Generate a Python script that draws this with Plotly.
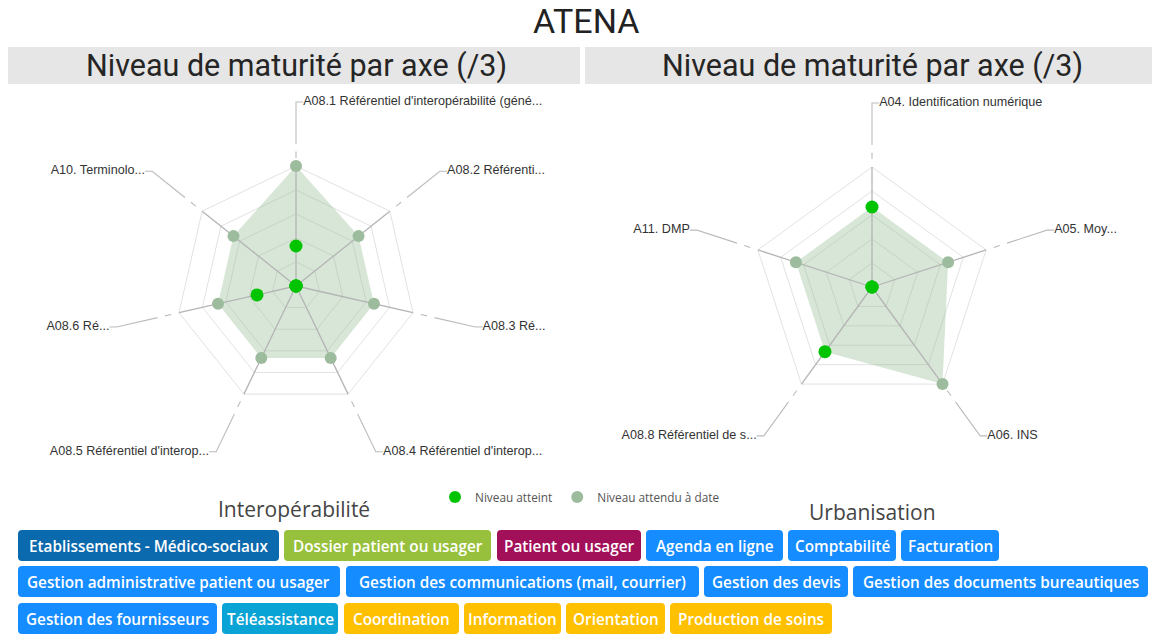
import numpy as np
import plotly.graph_objects as go

W, H = 1155, 634

titre = "ATENA"
sous_titre = "Niveau de maturité par axe (/3)"

# --- radar Interopérabilité
axes_interop = ["A08.1 Référentiel d'interopérabilité (géné...", "A08.2 Référenti...", "A08.3 Ré...",
                "A08.4 Référentiel d'interop...", "A08.5 Référentiel d'interop...", "A08.6 Ré...",
                "A10. Terminolo..."]
atteint_interop = [1, 0, 0, 0, 0, 1, 0]
attendu_interop = [3, 2, 2, 2, 2, 2, 2]

# --- radar Urbanisation
axes_urba = ["A04. Identification numérique", "A05. Moy...", "A06. INS",
             "A08.8 Référentiel de s...", "A11. DMP"]
atteint_urba = [2, 0, 0, 2, 0]
attendu_urba = [2, 2, 3, 2, 2]

niveaux = [0.6, 1.2, 1.8, 2.4, 3.0]
legende = ["Niveau atteint", "Niveau attendu à date"]
sections = ["Interopérabilité", "Urbanisation"]

# --- boutons (filtres)
boutons = [
    ["Etablissements - Médico-sociaux", "Dossier patient ou usager", "Patient ou usager",
     "Agenda en ligne", "Comptabilité", "Facturation"],
    ["Gestion administrative patient ou usager", "Gestion des communications (mail, courrier)",
     "Gestion des devis", "Gestion des documents bureautiques"],
    ["Gestion des fournisseurs", "Téléassistance", "Coordination", "Information",
     "Orientation", "Production de soins"],
]
types_boutons = [
    ["etab", "dossier", "patient", "fonction", "fonction", "fonction"],
    ["fonction", "fonction", "fonction", "fonction"],
    ["fonction", "tele", "service", "service", "service", "service"],
]
couleurs_types = {"etab": "#0b69ad", "dossier": "#97c13c", "patient": "#a3105a",
                  "fonction": "#158cff", "tele": "#0aa3d5", "service": "#ffc000"}
# positions des boutons (px) : bords gauche/droit, lignes haut/bas
x_boutons = [
    [(18, 279), (284, 491), (497, 641), (646, 783), (788, 896), (901, 999)],
    [(18, 340), (346, 699), (704, 848), (853, 1148)],
    [(18, 217), (222, 338), (344, 459), (464, 561), (566, 665), (670, 832)],
]
y_boutons = [(530, 561), (566, 597), (603, 634)]

VERT = "#00c400"
GRIS_VERT = "#9dbb9d"
REMPLI = "rgba(150,190,150,0.38)"
PX_UNITE = 40.0
RMAX = 4.9


def px(x, y):
    return x / W, 1 - y / H


def rect_arrondi(x0, y0, x1, y1, r=4):
    pts = [(x0 + r, y0), (x1 - r, y0), (x1, y0), (x1, y0 + r), (x1, y1 - r), (x1, y1),
           (x1 - r, y1), (x0 + r, y1), (x0, y1), (x0, y1 - r), (x0, y0 + r), (x0, y0), (x0 + r, y0)]
    p = [px(*q) for q in pts]
    s = "M %f,%f L %f,%f Q %f,%f %f,%f L %f,%f Q %f,%f %f,%f L %f,%f Q %f,%f %f,%f L %f,%f Q %f,%f %f,%f Z" % tuple(
        v for q in p for v in q)
    return s


fig = go.Figure()


def radar(noms, atteint, attendu, grille, dessus, avec_legende):
    n = len(noms)
    theta = np.arange(n) * 360.0 / n
    # remplissage du niveau attendu (axe catégoriel pour la grille polygonale)
    fig.add_trace(go.Scatterpolar(r=attendu, theta=noms, mode="lines", fill="toself",
                                  fillcolor=REMPLI, line=dict(width=0, color="rgba(0,0,0,0)"),
                                  subplot=grille, showlegend=False, hoverinfo="skip"))
    # rayons
    r_s, t_s = [], []
    for t in theta:
        r_s += [0, 3, None]
        t_s += [t, t, None]
    fig.add_trace(go.Scatterpolar(r=r_s, theta=t_s, mode="lines", line=dict(color="#b4b4b4", width=1.3),
                                  subplot=dessus, showlegend=False, hoverinfo="skip"))
    # traits de rappel vers les étiquettes
    r_l, t_l, r_txt, t_txt, pos = [], [], [], [], []
    for t in theta:
        a = np.radians(t)
        sens = 1 if np.sin(a) > -1e-9 else -1
        xe = 4.6 * np.sin(a) + sens * 0.18
        ye = 4.6 * np.cos(a)
        re = float(np.hypot(xe, ye))
        te = float(np.degrees(np.arctan2(xe, ye)) % 360)
        r_l += [3.2, 3.36, None, 3.55, 4.6, re, None]
        t_l += [t, t, None, t, t, te, None]
        r_txt.append(re)
        t_txt.append(te)
        pos.append("middle right" if sens > 0 else "middle left")
    fig.add_trace(go.Scatterpolar(r=r_l, theta=t_l, mode="lines", line=dict(color="#bcbcbc", width=1.1),
                                  subplot=dessus, showlegend=False, hoverinfo="skip"))
    fig.add_trace(go.Scatterpolar(r=r_txt, theta=t_txt, mode="text", text=noms, textposition=pos,
                                  textfont=dict(family="Liberation Sans, Arial", size=12.6, color="#333333"),
                                  cliponaxis=False, subplot=dessus, showlegend=False, hoverinfo="skip"))
    # marqueurs
    fig.add_trace(go.Scatterpolar(r=attendu, theta=theta, mode="markers", name=legende[1],
                                  marker=dict(color=GRIS_VERT, size=12), legendrank=2,
                                  subplot=dessus, showlegend=avec_legende))
    fig.add_trace(go.Scatterpolar(r=atteint, theta=theta, mode="markers", name=legende[0],
                                  marker=dict(color=VERT, size=13), legendrank=1,
                                  subplot=dessus, showlegend=avec_legende))


radar(axes_interop, atteint_interop, attendu_interop, "polar", "polar3", True)
radar(axes_urba, atteint_urba, attendu_urba, "polar2", "polar4", False)


def domaine(cx, cy):
    h = RMAX * PX_UNITE
    return dict(x=[(cx - h) / W, (cx + h) / W], y=[1 - (cy + h) / H, 1 - (cy - h) / H])


def polar_layout(cx, cy, grille):
    radial = dict(range=[0, RMAX], showticklabels=False, ticks="", showline=False)
    if grille:
        radial.update(tickvals=niveaux, gridcolor="#e2e2e2", gridwidth=1.3, showgrid=True)
    else:
        radial.update(showgrid=False)
    return dict(domain=domaine(cx, cy), bgcolor="rgba(0,0,0,0)",
                gridshape="linear" if grille else "circular",
                radialaxis=radial,
                angularaxis=dict(direction="clockwise", rotation=90, showgrid=False, showline=False,
                                 showticklabels=False, ticks=""))


def texte(t, cx, cy, famille, taille, couleur, poids="normal"):
    return dict(text=t, x=cx / W, y=1 - cy / H, xref="paper", yref="paper", showarrow=False,
                xanchor="center", yanchor="middle",
                font=dict(family=famille, size=taille, color=couleur, weight=poids))


shapes = [
    dict(type="rect", xref="paper", yref="paper", x0=8 / W, x1=580 / W, y0=1 - 84 / H, y1=1 - 47 / H,
         fillcolor="#e6e6e6", line=dict(width=0), layer="below"),
    dict(type="rect", xref="paper", yref="paper", x0=585 / W, x1=1152 / W, y0=1 - 84 / H, y1=1 - 47 / H,
         fillcolor="#e6e6e6", line=dict(width=0), layer="below"),
]

annotations = [
    texte(titre, 585.5, 21, "Roboto", 34, "#222222"),
    texte(sous_titre, 297, 66, "Roboto", 30.5, "#252525"),
    texte(sous_titre, 872, 66, "Roboto", 30.5, "#252525"),
    texte(sections[0], 294, 509, "Open Sans", 21, "#444444"),
    texte(sections[1], 872, 512, "Open Sans", 21, "#444444"),
]

for ligne, types, xs, (y0, y1) in zip(boutons, types_boutons, x_boutons, y_boutons):
    for lab, typ, (x0, x1) in zip(ligne, types, xs):
        shapes.append(dict(type="path", path=rect_arrondi(x0, y0, x1, y1), xref="paper", yref="paper",
                           fillcolor=couleurs_types[typ], line=dict(width=0)))
        annotations.append(texte(lab, (x0 + x1) / 2, (y0 + y1) / 2, "Open Sans", 15.3, "white", 600))

fig.update_layout(
    width=W, height=H, autosize=False,
    margin=dict(l=0, r=0, t=0, b=0),
    paper_bgcolor="white", plot_bgcolor="white",
    polar=polar_layout(296, 286, True),
    polar2=polar_layout(872, 287, True),
    polar3=polar_layout(296, 286, False),
    polar4=polar_layout(872, 287, False),
    shapes=shapes,
    annotations=annotations,
    showlegend=True,
    legend=dict(orientation="h", x=580 / W, y=1 - 497 / H, xanchor="center", yanchor="middle",
                font=dict(family="Open Sans", size=11.8, color="#555555"), bgcolor="rgba(0,0,0,0)",
                itemsizing="constant"),
)

fig.write_html("out.html", config={"displayModeBar": False},
               post_script="document.body.style.margin='0';")
